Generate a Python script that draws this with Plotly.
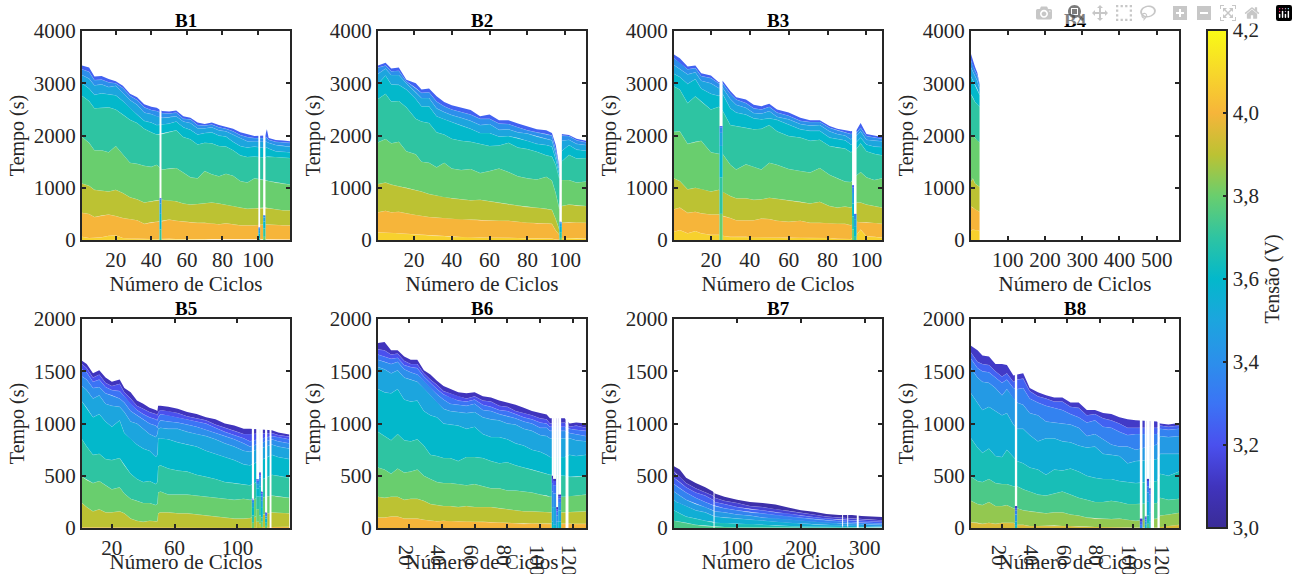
import plotly.graph_objects as go

# Cada linha: [ciclo, tempo no topo de cada faixa de tensao, de baixo para cima]
B1_tensoes = [4.08, 4.0, 3.9, 3.8, 3.7, 3.6, 3.5, 3.4, 3.25]
B1 = [
 [1,60,520,1080,1970,2760,3000,3160,3270,3340],[5,40,500,1040,1860,2660,2900,3090,3220,3300],
 [8,45,440,960,1720,2520,2780,2960,3060,3130],[12,55,470,950,1720,2530,2810,2980,3070,3140],
 [16,80,490,930,1680,2540,2790,2930,3020,3080],[20,90,460,960,1800,2500,2770,2950,3000,3040],
 [24,40,420,900,1640,2400,2660,2820,2910,2950],[28,30,400,820,1480,2300,2520,2680,2760,2800],
 [32,25,380,780,1460,2240,2400,2590,2680,2730],[36,20,310,720,1420,2130,2280,2440,2540,2600],
 [40,20,340,740,1400,2060,2250,2410,2490,2550],[43,20,350,760,1440,2020,2200,2370,2470,2530],
 [46,15,360,770,1350,2030,2210,2340,2430,2470],[50,25,390,760,1370,2070,2230,2350,2420,2460],
 [54,20,370,740,1380,2100,2270,2370,2440,2480],[58,15,350,700,1290,1970,2160,2270,2320,2370],
 [62,15,340,680,1200,1930,2110,2240,2310,2340],[66,15,330,690,1180,1830,2020,2140,2200,2250],
 [70,15,330,700,1320,1860,2050,2140,2190,2220],[74,10,320,720,1260,1850,2060,2160,2210,2250],
 [78,10,300,700,1220,1800,2000,2100,2160,2200],[82,10,320,680,1270,1790,1980,2080,2130,2170],
 [86,10,300,650,1230,1720,1880,2020,2080,2130],[90,10,280,620,1130,1620,1800,1950,2010,2060],
 [94,10,280,600,1100,1590,1770,1890,1970,2030],[98,10,280,610,1180,1600,1790,1890,1950,1990],
 [104,10,300,620,1150,1580,1760,1880,1950,2000],[105,10,300,620,1140,1600,1770,1880,1960,2120],
 [106,10,300,610,1130,1590,1750,1860,1920,1950],[110,10,290,590,1100,1590,1700,1820,1880,1915],
 [114,10,280,570,1080,1580,1690,1800,1870,1905],[118,10,280,570,1060,1570,1680,1790,1860,1890],
]
B1_falhas = [(44.6,45.7,[0,0,0,0,200,500,700,780,800]),(100.2,101.2,[0,0,0,0,30,120,190,225,240]),
             (102.9,104.2,[0,0,0,60,220,350,430,470,480])]

B2_tensoes = [4.08, 4.0, 3.9, 3.8, 3.7, 3.6, 3.5, 3.4, 3.25]
B2 = [
 [1,147,530,1070,1870,2700,2990,3180,3300,3340],[5,150,560,1100,1935,2800,3150,3280,3340,3390],
 [8,140,530,1060,1850,2650,2980,3160,3230,3280],[12,130,540,1030,1880,2660,2970,3160,3240,3300],
 [16,120,510,1000,1700,2540,2880,3000,3040,3065],[21,100,480,960,1640,2320,2700,2830,2910,3000],
 [24,90,470,930,1500,2270,2560,2720,2820,2880],[28,90,440,880,1480,2240,2560,2720,2830,2900],
 [32,80,430,850,1390,2060,2370,2520,2650,2750],[36,75,420,820,1480,2020,2310,2450,2560,2640],
 [40,60,410,800,1370,1940,2260,2390,2500,2580],[45,60,390,780,1340,1900,2190,2340,2450,2530],
 [50,50,390,760,1360,1880,2130,2280,2400,2490],[55,50,380,770,1280,1840,2050,2200,2320,2370],
 [60,50,380,740,1320,1800,2050,2220,2320,2400],[65,50,370,720,1370,1810,1980,2110,2230,2290],
 [70,45,370,690,1300,1860,1990,2120,2220,2290],[75,40,350,660,1220,1770,1950,2060,2160,2230],
 [80,35,330,630,1180,1740,1900,2040,2100,2180],[85,35,320,620,1160,1690,1840,1980,2060,2120],
 [90,30,320,600,1210,1620,1820,1940,2030,2100],[93,30,310,580,1140,1600,1790,1910,2000,2050],
 [95,10,180,400,900,1440,1550,1650,1730,1820],[96.9,5,100,200,600,1180,1250,1330,1380,1400],
 [98,40,330,650,1150,1500,1700,1900,2000,2030],[102,40,340,680,1150,1630,1820,1920,1990,2010],
 [106,40,340,660,1100,1560,1730,1840,1910,1940],[111,30,330,650,1120,1570,1710,1820,1870,1900],
]
B2_falhas = [(96.9,98.2,[0,0,0,40,150,250,310,340,350])]

B3_tensoes = [4.08, 4.0, 3.9, 3.8, 3.7, 3.6, 3.5, 3.4, 3.25]
B3 = [
 [1,160,590,1180,2070,2940,3180,3350,3480,3550],[4,190,620,1130,2080,2880,3120,3280,3400,3480],
 [8,130,520,970,1840,2620,2990,3170,3270,3320],[12,170,540,1000,1880,2750,3080,3210,3290,3340],
 [15,130,510,980,1900,2650,2900,3050,3140,3190],[20,100,490,930,1680,2500,2800,3000,3100,3150],
 [24,100,490,960,1650,2550,2760,2910,3000,3020],[26,80,460,930,1650,2480,2800,2920,3000,3050],
 [30,60,420,840,1440,2200,2520,2700,2800,2850],[33,60,380,800,1350,2180,2440,2590,2690,2730],
 [38,60,380,800,1450,2150,2400,2530,2620,2690],[42,50,380,770,1400,2120,2330,2430,2520,2590],
 [46,50,410,780,1350,2130,2310,2420,2500,2560],[50,50,400,810,1480,2200,2330,2470,2550,2610],
 [54,50,370,790,1440,2080,2300,2360,2440,2500],[60,40,350,760,1360,1990,2210,2310,2380,2440],
 [66,50,370,730,1320,1960,2120,2220,2280,2340],[71,40,330,700,1290,1900,2090,2190,2260,2290],
 [76,40,330,730,1380,1920,2090,2200,2260,2290],[81,40,320,650,1250,1800,1960,2080,2150,2180],
 [85,25,310,620,1180,1770,1930,2030,2100,2130],[89,20,310,640,1120,1750,1910,2000,2060,2100],
 [92,20,280,620,1110,1680,1830,1930,2030,2080],[95,100,350,720,1240,1750,1880,2000,2060,2110],
 [97,200,340,720,1300,1850,1960,2080,2150,2240],[100,70,340,680,1200,1700,1830,1920,1990,2030],
 [104,60,330,650,1150,1650,1790,1900,1960,2000],[108,50,310,620,1180,1620,1780,1890,1940,1970],
]
B3_falhas = [(24.4,26,[0,0,0,500,1200,1800,2050,2150,2180]),(92.6,93.6,[0,0,0,200,450,700,900,1000,1050]),
             (93.6,94.9,[0,0,0,0,60,250,400,480,500])]

B4_tensoes = [4.08, 4.0, 3.9, 3.8, 3.7, 3.6, 3.5, 3.4, 3.25]
B4 = [
 [1,180,640,1120,2010,2790,3130,3300,3440,3560],[6,200,620,1180,2000,2730,3060,3220,3330,3430],
 [12,190,590,1080,1950,2640,2980,3140,3240,3310],[18,190,560,1050,1900,2600,2890,3050,3150,3200],
 [24,170,540,1020,1870,2550,2780,2900,2990,3030],
]
B4_falhas = []

B5_tensoes = [4.0, 3.9, 3.8, 3.7, 3.6, 3.5, 3.4, 3.3, 3.2, 3.1]
B5 = [
 [1,8,240,490,850,1210,1360,1450,1520,1570,1600],[4,8,200,460,780,1150,1320,1420,1490,1530,1570],
 [8,10,160,430,700,1060,1240,1340,1400,1440,1480],[12,8,180,450,710,1090,1270,1350,1420,1470,1510],
 [16,8,150,410,660,1020,1190,1290,1350,1390,1440],[20,5,150,370,650,970,1170,1270,1320,1360,1400],
 [25,5,160,390,670,1030,1160,1240,1310,1380,1420],[28,5,140,330,600,910,1110,1200,1260,1300,1340],
 [32,4,90,280,520,850,1020,1120,1190,1240,1300],[36,3,70,260,470,800,1000,1080,1130,1170,1220],
 [40,3,60,240,440,760,950,1040,1090,1140,1190],[44,3,70,240,450,740,900,1000,1060,1110,1150],
 [48,3,65,220,420,680,870,980,1040,1090,1130],[49,3,65,230,440,700,900,960,1030,1080,1120],
 [49.5,4,140,340,590,860,950,1000,1060,1110,1170],[51,5,150,350,600,860,960,1030,1090,1130,1170],
 [56,5,150,320,570,850,950,1020,1080,1120,1160],[62,4,140,320,550,820,950,1010,1060,1100,1140],
 [68,4,140,320,540,800,920,990,1040,1070,1110],[74,3,130,310,510,780,900,970,1020,1050,1090],
 [80,3,120,300,490,740,880,940,1000,1030,1060],[86,3,110,290,470,710,850,910,960,990,1040],
 [92,3,100,280,440,680,810,880,920,960,1000],[98,3,90,270,430,650,780,850,890,930,980],
 [104,3,90,280,420,610,740,810,860,900,950],[108,3,95,270,410,600,730,780,830,900,950],
 [122,10,150,310,510,700,800,850,880,910,935],[126,12,145,300,500,680,780,830,870,890,915],
 [133,12,140,290,480,660,760,810,850,875,895],
]
B5_falhas = [(109.2,110.6,[0,0,50,120,200,240,260,270,275,280]),(112,113.8,[0,60,180,300,380,420,440,455,465,470]),
             (113.8,115,[0,40,120,300,400,450,480,500,520,530]),(115,116.2,[0,10,60,100,200,260,300,330,345,350]),
             (117.6,119,[0,0,20,50,90,110,125,135,145,150]),(120.5,121.7,[0,0,0,0,0,0,0,0,0,0])]

B6_tensoes = [4.0, 3.9, 3.8, 3.7, 3.6, 3.5, 3.4, 3.3, 3.2, 3.1]
B6 = [
 [1,100,300,580,920,1330,1540,1610,1660,1710,1770],[5,100,290,560,880,1300,1520,1590,1640,1700,1780],
 [9,110,300,520,840,1290,1480,1570,1620,1660,1700],[13,110,300,570,900,1330,1510,1590,1630,1670,1700],
 [17,90,270,530,840,1230,1440,1520,1560,1600,1640],[21,90,280,540,830,1210,1420,1490,1540,1570,1610],
 [25,90,280,560,850,1220,1400,1470,1530,1570,1610],[29,80,260,500,790,1120,1340,1410,1450,1480,1510],
 [33,70,230,470,700,1080,1270,1340,1390,1420,1470],[37,65,220,440,690,1060,1200,1280,1330,1370,1410],
 [41,70,210,430,670,1000,1140,1230,1280,1310,1360],[45,65,210,430,670,990,1120,1190,1250,1290,1330],
 [50,65,200,420,640,980,1110,1180,1220,1260,1300],[55,65,210,410,680,950,1100,1170,1210,1240,1290],
 [60,60,200,420,680,970,1110,1190,1230,1260,1300],[65,60,200,400,670,900,1060,1130,1180,1220,1260],
 [70,55,200,380,640,870,1040,1120,1160,1210,1250],[75,55,190,380,620,870,1030,1090,1130,1170,1220],
 [80,50,180,360,630,850,1000,1070,1120,1160,1200],[85,45,170,360,600,810,990,1050,1090,1120,1180],
 [90,40,160,350,580,790,950,1020,1060,1100,1150],[95,45,160,340,560,750,930,1000,1040,1080,1120],
 [100,40,155,320,540,730,890,960,1010,1050,1100],[104,40,150,310,520,700,880,960,1000,1040,1085],
 [106,40,150,300,510,680,860,930,970,1000,1050],[115,40,150,300,500,680,860,930,970,1010,1050],
 [118,40,150,310,490,700,860,910,950,970,1000],[122,40,155,310,490,690,840,900,940,980,1010],
 [128,40,160,320,500,700,830,880,930,960,1000],
]
B6_falhas = [(107.1,107.9,[0,0,0,0,60,200,350,430,470,500]),(107.9,109.8,[0,0,0,0,30,200,330,410,450,470]),
             (109.8,111,[0,0,0,0,0,60,120,160,180,200]),(111,112.8,[0,0,0,0,60,170,240,280,305,320]),
             (115.5,117.3,[0,0,0,0,0,0,0,0,0,0])]

B7_tensoes = [3.75, 3.65, 3.55, 3.45, 3.35, 3.25, 3.15, 3.05]
B7 = [
 [1,70,170,270,350,420,480,540,590],[5,65,155,250,330,400,460,510,575],[10,60,140,240,310,380,440,490,560],
 [20,50,110,210,270,340,390,430,480],[35,30,90,170,230,290,340,380,430],[50,20,70,150,200,250,310,340,390],
 [62,15,60,120,170,220,270,310,350],[65,15,50,110,160,210,250,290,330],[80,10,50,100,150,190,230,260,300],
 [100,8,40,90,130,170,200,240,270],[120,8,40,80,120,150,180,210,250],[140,5,30,70,100,140,170,200,240],
 [160,5,25,60,95,125,150,180,225],[180,3,20,50,85,110,140,165,195],[200,3,15,45,70,95,120,145,170],
 [220,2,12,35,60,85,105,130,155],[240,2,10,30,50,75,90,110,135],[260,2,10,25,45,65,80,100,125],
 [280,2,8,20,40,55,75,90,125],[295,2,7,18,35,50,70,85,115],[310,2,6,16,32,48,65,80,110],[327,2,6,15,30,45,60,75,105],
]
B7_falhas = [(63,64.5,[0,0,0,0,0,0,0,0]),(264.5,266,[0,2,4,6,8,10,12,14]),(272.5,274,[0,2,4,6,8,10,12,14]),
             (287.5,290.5,[0,0,0,0,0,0,0,0])]

B8_tensoes = [3.95, 3.85, 3.75, 3.65, 3.55, 3.45, 3.35, 3.25, 3.12]
B8 = [
 [1,55,260,490,860,1290,1530,1620,1680,1745],[5,50,230,450,770,1200,1440,1530,1590,1700],
 [8,40,220,440,720,1130,1400,1500,1570,1650],[12,50,250,470,760,1160,1390,1490,1560,1640],
 [16,40,210,430,690,1120,1340,1440,1500,1570],[20,50,210,420,680,1080,1270,1390,1450,1570],
 [23,50,220,420,750,1100,1330,1420,1480,1560],[27,50,190,400,680,990,1240,1340,1400,1460],
 [29.3,30,190,400,640,950,1200,1330,1420,1470],[33,30,170,370,620,950,1180,1340,1430,1480],
 [37,20,160,350,580,890,1100,1240,1310,1340],[42,20,150,320,560,830,1080,1200,1260,1300],
 [47,20,140,310,510,860,1020,1170,1240,1270],[52,25,150,330,560,860,1010,1150,1210,1250],
 [57,20,150,350,550,830,1000,1130,1210,1250],[62,20,130,320,570,820,990,1090,1160,1200],
 [67,15,120,290,540,790,960,1060,1150,1200],[72,15,100,270,500,770,880,1010,1080,1130],
 [77,10,90,250,480,780,900,1030,1090,1130],[82,10,90,250,470,710,850,970,1050,1100],
 [87,10,85,260,470,700,800,960,1030,1090],[92,8,90,250,450,690,780,920,1000,1060],
 [97,5,80,230,440,620,780,890,960,1040],[102,5,70,230,430,640,750,900,960,1030],
 [115,5,90,240,450,660,800,900,960,1020],[117,15,120,290,520,710,880,950,980,1000],
 [122,20,130,270,500,710,870,940,970,990],[128.5,30,145,280,540,710,880,950,980,1005],
]
B8_falhas = [(27.9,29.3,[0,0,0,20,60,130,170,190,210]),(104.5,106.1,[0,0,0,0,0,0,30,60,90]),
             (107.5,108.8,[0,0,0,0,30,60,80,100,110]),(108.8,110.2,[0,0,40,120,250,340,400,450,470]),
             (110.2,111.2,[0,0,0,60,150,250,320,360,380]),(111.2,113.2,[0,0,0,0,0,0,0,0,0]),
             (115.3,116.7,[0,0,0,0,0,0,0,0,0])]

PAINEIS = ["B1","B2","B3","B4","B5","B6","B7","B8"]
DADOS = {"B1":(B1,B1_tensoes,B1_falhas),"B2":(B2,B2_tensoes,B2_falhas),"B3":(B3,B3_tensoes,B3_falhas),
         "B4":(B4,B4_tensoes,B4_falhas),"B5":(B5,B5_tensoes,B5_falhas),"B6":(B6,B6_tensoes,B6_falhas),
         "B7":(B7,B7_tensoes,B7_falhas),"B8":(B8,B8_tensoes,B8_falhas)}
LIM_X = {"B1":[1,118],"B2":[1,111],"B3":[1,108],"B4":[1,560],"B5":[1,133.5],"B6":[1,128],"B7":[1,327],"B8":[1,128.5]}
TICKS_X = {"B1":[20,40,60,80,100],"B2":[20,40,60,80,100],"B3":[20,40,60,80,100],"B4":[100,200,300,400,500],
           "B5":[20,60,100],"B6":[20,40,60,80,100,120],"B7":[100,200,300],"B8":[20,40,60,80,100,120]}
LIM_Y = {"B1":4000,"B2":4000,"B3":4000,"B4":4000,"B5":2000,"B6":2000,"B7":2000,"B8":2000}
TICKS_Y = {4000:[0,1000,2000,3000,4000],2000:[0,500,1000,1500,2000]}

CB_V = [3.0,3.1,3.2,3.3,3.4,3.5,3.6,3.7,3.8,3.9,4.0,4.1,4.2]
CB_C = [(58,44,151),(64,52,189),(74,80,238),(59,116,245),(44,143,235),(28,165,222),(3,184,203),
        (46,196,162),(105,206,110),(188,194,51),(246,181,58),(247,216,42),(249,251,21)]
CB_TICKS = [3.0,3.2,3.4,3.6,3.8,4.0,4.2]
CB_TEXTO = ["3,0","3,2","3,4","3,6","3,8","4,0","4,2"]

W, H = 1298, 574
INK = "#262626"
FONT = "Liberation Serif"
X0 = {"B1":82,"B2":378,"B3":674,"B4":971,"B5":82,"B6":378,"B7":674,"B8":971}
LARG = 208
LIN = [(31,240),(319,528)]

def cor(v):
    for i in range(len(CB_V)-1):
        if v <= CB_V[i+1]:
            f = (v-CB_V[i])/(CB_V[i+1]-CB_V[i])
            a,b = CB_C[i],CB_C[i+1]
            return "rgb(%d,%d,%d)" % tuple(round(a[k]+(b[k]-a[k])*f) for k in range(3))
    return "rgb(%d,%d,%d)" % CB_C[-1]

fig = go.Figure()
anot = []

def faixas(xa, ya, xs, colunas, tensoes, borda):
    base = [0]*len(xs)
    for j, v in enumerate(tensoes):
        topo = colunas[j]
        fig.add_trace(go.Scatter(x=xs+xs[::-1], y=topo+base[::-1], mode="lines", fill="toself",
                                 fillcolor=cor(v), line=dict(width=0), xaxis=xa, yaxis=ya,
                                 hoverinfo="skip", showlegend=False))
        if borda and j < len(tensoes)-1:
            fig.add_trace(go.Scatter(x=xs, y=topo, mode="lines", line=dict(width=0.8, color="rgba(255,255,255,0.28)"),
                                     xaxis=xa, yaxis=ya, hoverinfo="skip", showlegend=False))
        base = topo

for i, p in enumerate(PAINEIS):
    n = "" if i == 0 else str(i+1)
    xa, ya = "x"+n, "y"+n
    linhas, tensoes, falhas = DADOS[p]
    xs = [l[0] for l in linhas]
    colunas = [[l[j+1] for l in linhas] for j in range(len(tensoes))]
    faixas(xa, ya, xs, colunas, tensoes, True)
    for c0, c1, niveis in falhas:
        fig.add_trace(go.Scatter(x=[c0,c1,c1,c0], y=[0,0,LIM_Y[p],LIM_Y[p]], mode="lines", fill="toself",
                                 fillcolor="white", line=dict(width=0), xaxis=xa, yaxis=ya,
                                 hoverinfo="skip", showlegend=False))
        faixas(xa, ya, [c0,c1], [[t,t] for t in niveis], tensoes, False)
    top, bot = LIN[i//4]
    comum = dict(showline=True, linewidth=2, linecolor=INK, mirror="ticks", ticks="inside", ticklen=4, tickwidth=2,
                 tickcolor=INK, showgrid=False, zeroline=False, tickfont=dict(family=FONT, size=21, color=INK))
    fig.layout["xaxis"+n] = dict(comum, domain=[X0[p]/W,(X0[p]+LARG)/W], anchor=ya, range=LIM_X[p], tickvals=TICKS_X[p],
        title=dict(text="Número de Ciclos", font=dict(family=FONT, size=21, color=INK), standoff=2))
    fig.layout["yaxis"+n] = dict(comum, domain=[1-bot/H,1-top/H], anchor=xa, range=[0,LIM_Y[p]], tickvals=TICKS_Y[LIM_Y[p]],
        title=dict(text="Tempo (s)", font=dict(family=FONT, size=20, color=INK), standoff=4))
    anot.append(dict(text="<b>%s</b>"%p, x=(X0[p]+LARG/2)/W, y=1-(top-1)/H, xref="paper", yref="paper", xanchor="center",
                     yanchor="bottom", showarrow=False, yshift=-3, font=dict(family=FONT, size=19, color="black")))

ESCALA = [[k/(len(CB_C)-1), "rgb(%d,%d,%d)"%c] for k,c in enumerate(CB_C)]
fig.add_trace(go.Scatter(x=[None,None], y=[None,None], mode="markers", hoverinfo="skip", showlegend=False,
    marker=dict(color=[CB_V[0],CB_V[-1]], cmin=CB_V[0], cmax=CB_V[-1],
        colorscale=ESCALA, showscale=True,
        colorbar=dict(x=1207/W, xanchor="left", xpad=0, y=1-30/H, yanchor="top", ypad=0, len=498, lenmode="pixels",
            thickness=20, thicknessmode="pixels", outlinewidth=2, outlinecolor=INK, ticks="inside", ticklen=5,
            tickwidth=2, tickcolor=INK, tickvals=CB_TICKS, ticktext=CB_TEXTO,
            tickfont=dict(family=FONT, size=21, color=INK),
            title=dict(text="Tensão (V)", side="right", font=dict(family=FONT, size=20, color=INK))))))

fig.update_layout(width=W, height=H, margin=dict(l=0,r=0,t=0,b=0,autoexpand=False), paper_bgcolor="white",
                  plot_bgcolor="white", annotations=anot, showlegend=False)
fig.write_html("out.html", post_script="document.body.style.margin='0';")
